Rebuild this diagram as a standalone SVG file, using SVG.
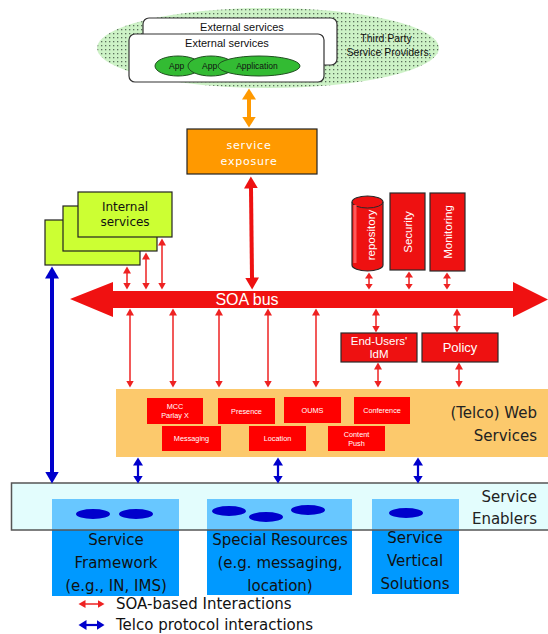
<svg xmlns="http://www.w3.org/2000/svg" width="548" height="634" viewBox="0 0 548 634">
  <style>
    .sans { font-family: "Liberation Sans", Arial, sans-serif; }
    .dv { font-family: "DejaVu Sans", Verdana, sans-serif; }
    .box-ext { fill: #ffffff; stroke: #333333; stroke-width: 1.2; }
    .app { fill: #33bb33; stroke: #1f4f1f; stroke-width: 1; }
    .app-t { font-size: 8.5px; fill: #111111; }
    .internal { fill: #ccff33; stroke: #222222; stroke-width: 1.2; }
    .redbox { fill: #ee1111; stroke: #2a2a2a; stroke-width: 1.2; }
    .wsvc { fill: #ff0000; }
    .wsvc-t { font-size: 7.3px; fill: #ffffff; text-anchor: middle; }
    .white-t { fill: #ffffff; text-anchor: middle; }
    .blue-box { fill: #0099ff; }
    .blob { fill: #0000cc; }
    .blue-t { font-size: 15px; fill: #111111; text-anchor: middle; }
    .soa { stroke: #ee2222; stroke-width: 1.5; fill: none; }
    .soa-s { stroke: #ee2222; stroke-width: 1.5; fill: none; }
    .telco { stroke: #0000cc; stroke-width: 2.2; fill: none; }
    .legend-t { font-size: 15px; fill: #111111; }
  </style>
  <defs>
    <pattern id="dots" width="4" height="4" patternUnits="userSpaceOnUse">
      <rect width="4" height="4" fill="#cdf2c6"/>
      <rect x="1" y="1" width="1.3" height="1.3" fill="#5b705b"/>
    </pattern>
    <marker id="hr" markerUnits="userSpaceOnUse" markerWidth="10" markerHeight="10" viewBox="0 -5 10 10" refX="0.5" refY="0" orient="auto-start-reverse">
      <path d="M0,-4 L7,0 L0,4 Z" fill="#ee2222"/>
    </marker>
    <marker id="hrs" markerUnits="userSpaceOnUse" markerWidth="10" markerHeight="10" viewBox="0 -5 10 10" refX="0.5" refY="0" orient="auto-start-reverse">
      <path d="M0,-4 L6,0 L0,4 Z" fill="#ee2222"/>
    </marker>
    <marker id="hb" markerUnits="userSpaceOnUse" markerWidth="12" markerHeight="12" viewBox="0 -6 12 12" refX="0.5" refY="0" orient="auto-start-reverse">
      <path d="M0,-5 L8,0 L0,5 Z" fill="#0000cc"/>
    </marker>
    <marker id="hbig" markerUnits="userSpaceOnUse" markerWidth="14" markerHeight="16" viewBox="0 -8 14 16" refX="0.5" refY="0" orient="auto-start-reverse">
      <path d="M0,-7 L12,0 L0,7 Z" fill="#ee1111"/>
    </marker>
    <marker id="hbb" markerUnits="userSpaceOnUse" markerWidth="14" markerHeight="16" viewBox="0 -8 14 16" refX="0.5" refY="0" orient="auto-start-reverse">
      <path d="M0,-7 L12,0 L0,7 Z" fill="#0000cc"/>
    </marker>
    <marker id="ho" markerUnits="userSpaceOnUse" markerWidth="14" markerHeight="16" viewBox="0 -8 14 16" refX="0.5" refY="0" orient="auto-start-reverse">
      <path d="M0,-7 L11,0 L0,7 Z" fill="#ff9900"/>
    </marker>
  </defs>

  <rect width="548" height="634" fill="#ffffff"/>

  <!-- Third party providers cloud with external services -->
  <g id="third-party">
    <ellipse cx="268" cy="48" rx="171" ry="40" fill="url(#dots)"/>
    <text class="sans" x="386" y="42" font-size="10.5" text-anchor="middle" fill="#111">Third Party</text>
    <text class="sans" x="389" y="56" font-size="10.5" text-anchor="middle" fill="#111">Service Providers.</text>
  </g>
  <g id="external-services-back">
    <rect class="box-ext" x="143" y="18" width="194" height="47" rx="6"/>
    <text class="sans" x="242" y="31" font-size="11" text-anchor="middle" fill="#111">External services</text>
  </g>
  <g id="external-services-front">
    <rect class="box-ext" x="129" y="34" width="195" height="48" rx="6"/>
    <text class="sans" x="227" y="47" font-size="11" text-anchor="middle" fill="#111">External services</text>
    <ellipse class="app" cx="178" cy="66" rx="23" ry="10"/>
    <text class="sans app-t" x="169" y="69">App</text>
    <ellipse class="app" cx="211" cy="66" rx="23" ry="10"/>
    <text class="sans app-t" x="202" y="69">App</text>
    <ellipse class="app" cx="259" cy="66" rx="41" ry="10"/>
    <text class="sans app-t" x="257" y="69" text-anchor="middle">Application</text>
  </g>

  <!-- Exposure layer -->
  <g id="service-exposure">
    <rect x="187" y="129" width="130" height="45" fill="#ff9900" stroke="#222" stroke-width="1.2"/>
    <text class="dv white-t" x="249" y="149" font-size="11" letter-spacing="0.8">service</text>
    <text class="dv white-t" x="249" y="165" font-size="11" letter-spacing="0.8">exposure</text>
  </g>

  <!-- Internal services stack -->
  <g id="internal-services">
    <rect class="internal" x="45" y="220" width="95" height="45"/>
    <rect class="internal" x="63" y="206" width="94" height="45"/>
    <rect class="internal" x="78" y="192" width="94" height="45"/>
    <text class="dv" x="125" y="211" font-size="12" text-anchor="middle" fill="#111">Internal</text>
    <text class="dv" x="125" y="226" font-size="12" text-anchor="middle" fill="#111">services</text>
  </g>

  <!-- Common services attached to the bus -->
  <g id="repository">
    <path d="M352,202 A15.5,6 0 0 1 383,202 V265 A15.5,6 0 0 1 352,265 Z" fill="#ee1111" stroke="#2a2a2a" stroke-width="1.2"/>
    <path d="M352,202 A15.5,6 0 0 0 383,202" fill="none" stroke="#2a2a2a" stroke-width="1"/>
    <path d="M355,205 V263" stroke="#ff5a5a" stroke-width="3" fill="none"/>
    <text class="sans white-t" font-size="11.5" transform="translate(371,235) rotate(-90)" y="4">repository</text>
  </g>
  <g id="security">
    <rect class="redbox" x="390" y="193" width="35" height="77"/>
    <text class="sans white-t" font-size="11.5" transform="translate(408,232) rotate(-90)" y="4">Security</text>
  </g>
  <g id="monitoring">
    <rect class="redbox" x="430" y="193" width="35" height="78"/>
    <text class="sans white-t" font-size="11.5" transform="translate(448,232) rotate(-90)" y="4">Monitoring</text>
  </g>
  <g id="end-users-idm">
    <rect class="redbox" x="341" y="333" width="76" height="29"/>
    <text class="sans white-t" x="379" y="344.5" font-size="11.5">End-Users'</text>
    <text class="sans white-t" x="379" y="357.5" font-size="11.5">IdM</text>
  </g>
  <g id="policy">
    <rect class="redbox" x="422" y="333" width="76" height="29"/>
    <text class="sans white-t" x="460" y="352" font-size="13">Policy</text>
  </g>

  <!-- SOA bus -->
  <g id="soa-bus">
    <polygon points="70,299 113,282 113,291 513,291 513,282 548,299.5 513,317 513,308 113,308 113,317" fill="#f01111"/>
    <text class="sans white-t" x="247" y="305" font-size="16">SOA bus</text>
  </g>

  <!-- (Telco) Web Services -->
  <g id="telco-web-services">
    <rect x="116" y="389" width="432" height="68" fill="#fcc96c"/>
    <text class="dv" x="537" y="418" font-size="15" text-anchor="end" fill="#222">(Telco) Web</text>
    <text class="dv" x="537" y="441" font-size="15" text-anchor="end" fill="#222">Services</text>
    <rect class="wsvc" x="147" y="398" width="56" height="26"/>
    <text class="sans wsvc-t" x="175" y="409">MCC</text>
    <text class="sans wsvc-t" x="175" y="418">Parlay X</text>
    <rect class="wsvc" x="218" y="398" width="57" height="26"/>
    <text class="sans wsvc-t" x="246.5" y="414">Presence</text>
    <rect class="wsvc" x="284" y="397" width="57" height="26"/>
    <text class="sans wsvc-t" x="312.5" y="413">OUMS</text>
    <rect class="wsvc" x="354" y="397" width="56" height="27"/>
    <text class="sans wsvc-t" x="382" y="413">Conference</text>
    <rect class="wsvc" x="162" y="426" width="59" height="25"/>
    <text class="sans wsvc-t" x="191.5" y="441">Messaging</text>
    <rect class="wsvc" x="249" y="426" width="57" height="25"/>
    <text class="sans wsvc-t" x="277.5" y="441">Location</text>
    <rect class="wsvc" x="328" y="426" width="57" height="25"/>
    <text class="sans wsvc-t" x="356.5" y="437">Content</text>
    <text class="sans wsvc-t" x="356.5" y="446">Push</text>
  </g>

  <!-- Service enablers band and underlying resources -->
  <g id="service-enablers">
    <rect x="11.5" y="483" width="545" height="47" fill="#e0fcfc"/>
  </g>
  <g id="service-framework">
    <rect class="blue-box" x="52" y="499" width="127" height="97"/>
  </g>
  <g id="special-resources">
    <rect class="blue-box" x="207" y="499" width="145" height="96"/>
  </g>
  <g id="service-vertical-solutions">
    <rect class="blue-box" x="372" y="499" width="87" height="95"/>
  </g>
  <g id="service-enablers-overlay">
    <rect x="11.5" y="483" width="545" height="47" fill="#e6ffff" fill-opacity="0.45" stroke="#555" stroke-width="1.5"/>
    <text class="dv" x="537" y="502" font-size="15" text-anchor="end" fill="#222">Service</text>
    <text class="dv" x="537" y="524" font-size="15" text-anchor="end" fill="#222">Enablers</text>
  </g>
  <g id="resource-blobs">
    <ellipse class="blob" cx="93" cy="514" rx="17" ry="5"/>
    <ellipse class="blob" cx="136" cy="514" rx="17" ry="5"/>
    <ellipse class="blob" cx="229" cy="511" rx="17" ry="5"/>
    <ellipse class="blob" cx="266" cy="517" rx="17" ry="5"/>
    <ellipse class="blob" cx="308" cy="510" rx="17" ry="5"/>
    <ellipse class="blob" cx="406" cy="513" rx="17" ry="5"/>
  </g>
  <g id="resource-labels">
    <text class="dv blue-t" x="116" y="545">Service</text>
    <text class="dv blue-t" x="116" y="568">Framework</text>
    <text class="dv blue-t" x="116" y="591">(e.g., IN, IMS)</text>
    <text class="dv blue-t" x="280" y="545">Special Resources</text>
    <text class="dv blue-t" x="280" y="568">(e.g. messaging,</text>
    <text class="dv blue-t" x="280" y="591">location)</text>
    <text class="dv blue-t" x="415" y="543">Service</text>
    <text class="dv blue-t" x="415" y="566">Vertical</text>
    <text class="dv blue-t" x="415" y="589">Solutions</text>
  </g>

  <!-- Connectors -->
  <g id="connectors">
    <!-- providers to exposure -->
    <path d="M249,99 V117" stroke="#ff9900" stroke-width="4" fill="none" marker-start="url(#ho)" marker-end="url(#ho)"/>
    <!-- exposure to bus -->
    <path d="M251,188 L252,278" stroke="#ee1111" stroke-width="4" fill="none" marker-start="url(#hbig)" marker-end="url(#hbig)"/>
    <!-- internal services to bus -->
    <path class="soa" d="M127,273 V283" marker-start="url(#hr)" marker-end="url(#hr)"/>
    <path class="soa" d="M146,259 V283" marker-start="url(#hr)" marker-end="url(#hr)"/>
    <path class="soa" d="M162,245 V283" marker-start="url(#hr)" marker-end="url(#hr)"/>
    <!-- common services to bus -->
    <path class="soa-s" d="M369,278 V284" marker-start="url(#hrs)" marker-end="url(#hrs)"/>
    <path class="soa-s" d="M409,277 V284" marker-start="url(#hrs)" marker-end="url(#hrs)"/>
    <path class="soa-s" d="M447,278 V284" marker-start="url(#hrs)" marker-end="url(#hrs)"/>
    <!-- bus to web services -->
    <path class="soa" d="M130,315 V381" marker-start="url(#hr)" marker-end="url(#hr)"/>
    <path class="soa" d="M173,315 V381" marker-start="url(#hr)" marker-end="url(#hr)"/>
    <path class="soa" d="M219,315 V381" marker-start="url(#hr)" marker-end="url(#hr)"/>
    <path class="soa" d="M268,315 V381" marker-start="url(#hr)" marker-end="url(#hr)"/>
    <path class="soa" d="M316,315 V381" marker-start="url(#hr)" marker-end="url(#hr)"/>
    <!-- bus to IdM and policy -->
    <path class="soa" d="M376,315 V326" marker-start="url(#hr)" marker-end="url(#hr)"/>
    <path class="soa" d="M457,315 V326" marker-start="url(#hr)" marker-end="url(#hr)"/>
    <!-- IdM and policy to web services -->
    <path class="soa" d="M378,369 V381" marker-start="url(#hr)" marker-end="url(#hr)"/>
    <path class="soa" d="M459,369 V381" marker-start="url(#hr)" marker-end="url(#hr)"/>
    <!-- web services to enablers -->
    <path class="telco" d="M138,465 V476" marker-start="url(#hb)" marker-end="url(#hb)"/>
    <path class="telco" d="M278,465 V476" marker-start="url(#hb)" marker-end="url(#hb)"/>
    <path class="telco" d="M418,465 V476" marker-start="url(#hb)" marker-end="url(#hb)"/>
    <!-- internal services to enablers -->
    <path d="M52,278 V472" stroke="#0000cc" stroke-width="4" fill="none" marker-start="url(#hbb)" marker-end="url(#hbb)"/>
  </g>

  <!-- Legend -->
  <g id="legend">
    <path class="soa" d="M85,604 H98" marker-start="url(#hr)" marker-end="url(#hr)"/>
    <text class="dv legend-t" x="116" y="609">SOA-based Interactions</text>
    <path class="telco" d="M86,625 H97" marker-start="url(#hb)" marker-end="url(#hb)"/>
    <text class="dv legend-t" x="116" y="630">Telco protocol interactions</text>
  </g>
</svg>
